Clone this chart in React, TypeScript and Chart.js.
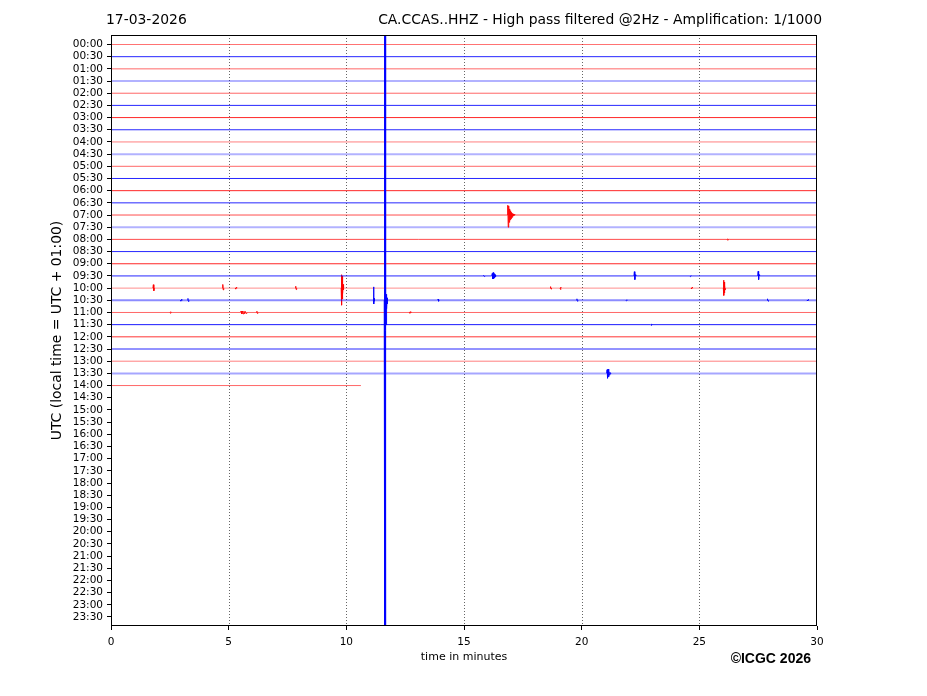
import React, { useEffect, useRef } from 'react';
import { Chart, registerables } from 'chart.js';

Chart.register(...registerables);

// ---------- data ----------
const dateLabel = '17-03-2026';
const titleText = 'CA.CCAS..HHZ - High pass filtered @2Hz - Amplification: 1/1000';
const yAxisTitle = 'UTC (local time = UTC + 01:00)';
const xAxisTitle = 'time in minutes';
const copyrightText = '©ICGC 2026';

const rowLabels = [
  '00:00', '00:30', '01:00', '01:30', '02:00', '02:30', '03:00', '03:30',
  '04:00', '04:30', '05:00', '05:30', '06:00', '06:30', '07:00', '07:30',
  '08:00', '08:30', '09:00', '09:30', '10:00', '10:30', '11:00', '11:30',
  '12:00', '12:30', '13:00', '13:30', '14:00', '14:30', '15:00', '15:30',
  '16:00', '16:30', '17:00', '17:30', '18:00', '18:30', '19:00', '19:30',
  '20:00', '20:30', '21:00', '21:30', '22:00', '22:30', '23:00', '23:30',
];
const xTickStep = 5;
const minutesPerRow = 30;
const recordedRows = 29;
const lastRowEndMinute = 10.62;

// [row, start minute, step (minutes), offsets from the row baseline]
const events: [number, number, number, number[]][] = [
  [14, 16.84, 0.02, [0, -0.8, 1.0, -0.75, 0.6, -0.5, 0.4, -0.35, 0.3, -0.22, 0.18, -0.14, 0.1, -0.08, 0.06, -0.04, 0]],
  [16, 26.15, 0.03, [0, 0.05, -0.05, 0.04, 0]],
  [19, 15.82, 0.02, [0, -0.06, 0.05, 0]],
  [19, 16.18, 0.02, [0, -0.2, 0.25, -0.28, 0.22, -0.18, 0.15, -0.1, 0.06, 0]],
  [19, 22.22, 0.02, [0, -0.35, 0.3, -0.1, 0]],
  [19, 24.6, 0.02, [0, 0.06, -0.05, 0]],
  [19, 27.48, 0.02, [0, -0.38, 0.3, -0.1, 0]],
  [20, 1.78, 0.02, [0, -0.28, 0.22, 0]],
  [20, 4.73, 0.02, [0, -0.3, 0.15, 0]],
  [20, 5.28, 0.02, [0, 0.08, -0.06, 0]],
  [20, 7.83, 0.02, [0, -0.15, 0.12, 0]],
  [20, 9.78, 0.012, [0, -1.1, 1.4, -1.0, 0.9, -0.6, 0.45, -0.3, 0.15, 0]],
  [20, 18.66, 0.02, [0, -0.12, 0.08, 0]],
  [20, 19.08, 0.02, [0, 0.12, -0.08, 0]],
  [20, 24.65, 0.02, [0, 0.06, -0.06, 0]],
  [20, 26.02, 0.012, [0, -0.65, 0.6, -0.5, 0.4, -0.25, 0.15, 0]],
  [21, 2.95, 0.02, [0, 0.07, -0.07, 0]],
  [21, 3.25, 0.02, [0, -0.15, 0.1, 0]],
  [21, 11.15, 0.01, [0, -1.1, 0.3, -0.15, 0.08, 0]],
  [21, 11.61, 0.008, [0, -30, 30, -30, 30, -30, 30, -0.9, 2.4, -0.7, 2.0, -0.5, 1.4, -0.3, 0.7, -0.2, 0.3, 0]],
  [21, 13.88, 0.02, [0, -0.1, 0.08, 0]],
  [21, 19.78, 0.02, [0, -0.12, 0.08, 0]],
  [21, 21.88, 0.02, [0, 0.06, -0.06, 0]],
  [21, 27.88, 0.02, [0, -0.12, 0.08, 0]],
  [21, 29.58, 0.02, [0, 0.06, -0.06, 0]],
  [22, 2.5, 0.02, [0, 0.06, -0.06, 0]],
  [22, 5.5, 0.03, [0, -0.12, 0.12, -0.12, 0.12, -0.1, 0.1, -0.08, 0.08, 0]],
  [22, 6.18, 0.02, [0, -0.1, 0.08, 0]],
  [22, 12.68, 0.02, [0, 0.06, -0.06, 0]],
  [23, 22.93, 0.02, [0, 0.06, -0.06, 0]],
  [27, 21.06, 0.02, [0, -0.3, 0.4, -0.35, 0.3, -0.2, 0.15, -0.1, 0.05, 0]],
];

// ---------- styles ----------
const rowAlpha = [
  0.55, 0.85, 0.6, 0.3, 0.6, 0.85, 0.85, 0.85, 0.5, 0.3,
  0.6, 0.85, 0.85, 0.85, 0.7, 0.3, 0.7, 0.85, 0.85, 0.85,
  0.45, 0.45, 0.6, 0.9, 0.8, 0.85, 0.5, 0.35, 0.6,
];
const rowWidth = [
  1, 1, 1, 2, 1, 1, 1, 1, 1, 2,
  1, 1, 1, 1, 1, 2, 1, 1, 1, 1,
  1, 2, 1, 1, 1, 1, 1, 2, 1,
];
const FONT = '"DejaVu Sans", sans-serif';

function rowColor(row: number, alpha: number) {
  return row % 2 === 0 ? `rgba(255,0,0,${alpha})` : `rgba(0,0,255,${alpha})`;
}

function buildRow(row: number) {
  const pts: { x: number; y: number }[] = [{ x: 0, y: row }];
  events
    .filter((e) => e[0] === row)
    .sort((a, b) => a[1] - b[1])
    .forEach(([, start, step, offs]) => {
      offs.forEach((o, k) => pts.push({ x: start + k * step, y: row + o }));
    });
  pts.push({ x: row === recordedRows - 1 ? lastRowEndMinute : minutesPerRow, y: row });
  return pts;
}

const decorPlugin = {
  id: 'decor',
  beforeDatasetsDraw(chart: any) {
    const { ctx, chartArea, scales } = chart;
    ctx.save();
    ctx.strokeStyle = '#666';
    ctx.lineWidth = 1;
    ctx.setLineDash([1, 2]);
    for (let v = xTickStep; v < minutesPerRow; v += xTickStep) {
      const x = Math.round(scales.x.getPixelForValue(v)) + 0.5;
      ctx.beginPath();
      ctx.moveTo(x, chartArea.top);
      ctx.lineTo(x, chartArea.bottom);
      ctx.stroke();
    }
    ctx.restore();
  },
  afterDraw(chart: any) {
    const { ctx, chartArea } = chart;
    const { left, right, top, bottom } = chartArea;
    ctx.save();
    ctx.strokeStyle = '#000';
    ctx.lineWidth = 1;
    ctx.strokeRect(left + 0.5, top + 0.5, right - left - 1, bottom - top - 1);

    ctx.fillStyle = '#000';
    ctx.textBaseline = 'middle';
    ctx.font = `13.9px ${FONT}`;
    ctx.textAlign = 'left';
    ctx.fillText(dateLabel, left - 5, 20);
    ctx.textAlign = 'right';
    ctx.fillText(titleText, right + 5, 20);

    ctx.textAlign = 'center';
    ctx.font = `11px ${FONT}`;
    ctx.fillText(xAxisTitle, (left + right) / 2, 657);

    ctx.font = `bold 14px "Liberation Sans", Arial, sans-serif`;
    ctx.textAlign = 'right';
    ctx.fillText(copyrightText, 811, 659);

    ctx.translate(57, (top + bottom) / 2);
    ctx.rotate(-Math.PI / 2);
    ctx.textAlign = 'center';
    ctx.font = `13.9px ${FONT}`;
    ctx.fillText(yAxisTitle, 0, 0);
    ctx.restore();
  },
};

export default function App() {
  const ref = useRef<HTMLCanvasElement | null>(null);

  useEffect(() => {
    if (!ref.current) return;
    const datasets = Array.from({ length: recordedRows }, (_, row) => {
      const base = rowColor(row, rowAlpha[row]);
      const solid = rowColor(row, 0.95);
      const isEvent = (c: any) =>
        Math.abs(c.p0.parsed.y - row) > 0.03 || Math.abs(c.p1.parsed.y - row) > 0.03;
      return {
        label: rowLabels[row],
        data: buildRow(row),
        borderColor: base,
        borderWidth: rowWidth[row],
        pointRadius: 0,
        tension: 0,
        fill: false,
        clip: 0,
        order: row === 21 ? 0 : 1,
        segment: {
          borderColor: (c: any) => (isEvent(c) ? solid : base),
          borderWidth: (c: any) => (isEvent(c) ? 1 : rowWidth[row]),
        },
      };
    });

    const chart = new Chart(ref.current, {
      type: 'line',
      data: { datasets },
      options: {
        animation: false,
        responsive: true,
        maintainAspectRatio: false,
        devicePixelRatio: 1,
        layout: { padding: { left: 0, right: 110, top: 35, bottom: 0 } },
        plugins: { legend: { display: false }, tooltip: { enabled: false }, title: { display: false } },
        scales: {
          x: {
            type: 'linear',
            min: 0,
            max: minutesPerRow,
            afterFit: (s: any) => { s.height = 70; },
            ticks: { stepSize: xTickStep, color: '#000', font: { family: FONT, size: 10.5 }, padding: 6, maxRotation: 0 },
            grid: { drawOnChartArea: false, drawTicks: true, tickLength: 4, tickColor: '#000' },
            border: { display: false },
          },
          y: {
            type: 'linear',
            reverse: true,
            min: -0.78,
            max: 47.74,
            afterFit: (s: any) => { s.width = 111; },
            afterBuildTicks: (s: any) => { s.ticks = rowLabels.map((_, i) => ({ value: i })); },
            ticks: {
              autoSkip: false,
              color: '#000',
              font: { family: FONT, size: 10.5 },
              padding: 4,
              callback: (v: any) => rowLabels[v] ?? '',
            },
            grid: { drawOnChartArea: false, drawTicks: true, tickLength: 4, tickColor: '#000' },
            border: { display: false },
          },
        },
      },
      plugins: [decorPlugin],
    } as any);
    return () => chart.destroy();
  }, []);

  return (
    <div style={{ position: 'absolute', left: 0, top: 0, width: 927, height: 696, background: '#fff' }}>
      <canvas ref={ref} />
    </div>
  );
}
